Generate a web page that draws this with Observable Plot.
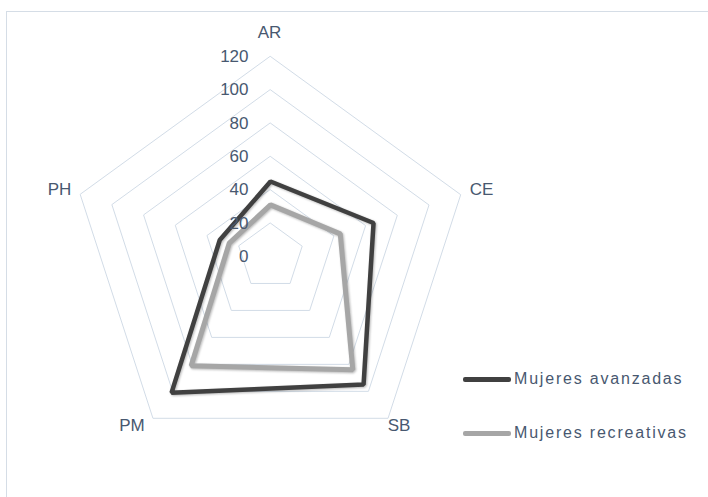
<!DOCTYPE html>
<html>
<head>
<meta charset="utf-8">
<script src="https://cdn.jsdelivr.net/npm/d3@7"></script>
<script src="https://cdn.jsdelivr.net/npm/@observablehq/plot@0.6"></script>
<style>
  html, body { margin: 0; padding: 0; background: #fff; }
  #wrap { position: relative; width: 708px; height: 497px; overflow: hidden; }
  #frame { position: absolute; left: 6px; top: 11px; width: 720px; height: 500px;
           border-top: 1.5px solid #d5dde6; border-left: 1.5px solid #d5dde6; }
  #chart { position: absolute; left: 0; top: 0; }
  .leg { position: absolute; left: 463px; font-family: "Liberation Sans", Arial, sans-serif;
         font-size: 16px; color: #485870; letter-spacing: 1.8px; display: flex; align-items: center; }
  .leg .sw { width: 48px; height: 5px; margin-right: 3px; border-radius: 2px; }
  .shadow { filter: drop-shadow(1px 1.5px 1.2px rgba(0,0,0,0.28)); }
</style>
</head>
<body>
<div id="wrap">
  <div id="frame"></div>
  <div id="chart"></div>
  <div id="legend"></div>
</div>
<script>
const categories = ["AR", "CE", "SB", "PM", "PH"];
const avanzadas = [45, 65, 95, 101, 32];
const recreativas = [31, 44, 84, 81, 26];
const tickValues = [0, 20, 40, 60, 80, 100, 120];
const seriesNames = ["Mujeres avanzadas", "Mujeres recreativas"];
const seriesColors = ["#404040", "#a6a6a6"];

// layout (pixels)
const W = 708, H = 497, cx = 270, cy = 256, R = 200, maxV = 120;
const k = maxV / R;

const angle = i => i * 2 * Math.PI / categories.length;
const px = (v, i) => v * Math.sin(angle(i));
const py = (v, i) => v * Math.cos(angle(i));

const rings = tickValues.filter(t => t > 0).flatMap(t =>
  categories.map((c, i) => ({level: t, x: px(t, i), y: py(t, i)})));

const seriesData = [avanzadas, recreativas].flatMap((vals, s) =>
  vals.map((v, i) => ({series: seriesNames[s], x: px(v, i), y: py(v, i)})));

const labelOffsets = {
  AR: {dx: -1, dy: -24, anchor: "middle"},
  CE: {dx: 9, dy: -5, anchor: "start"},
  SB: {dx: 11, dy: 7, anchor: "middle"},
  PM: {dx: -21, dy: 7, anchor: "middle"},
  PH: {dx: -9, dy: -5, anchor: "end"}
};

const font = '"Liberation Sans", Arial, sans-serif';
const textColor = "#485870";

const labelMarks = categories.map((c, i) => Plot.text([c], {
  x: () => px(maxV, i), y: () => py(maxV, i), text: d => d,
  dx: labelOffsets[c].dx, dy: labelOffsets[c].dy, textAnchor: labelOffsets[c].anchor,
  fill: textColor, fontSize: 17, fontFamily: font
}));

const chart = Plot.plot({
  width: W, height: H, margin: 0,
  style: {background: "transparent", overflow: "visible"},
  x: {domain: [-cx * k, (W - cx) * k], axis: null},
  y: {domain: [-(H - cy) * k, cy * k], axis: null},
  color: {domain: seriesNames, range: seriesColors},
  marks: [
    Plot.line(rings, {x: "x", y: "y", z: "level", curve: "linear-closed",
      stroke: "#d2dce7", strokeWidth: 1}),
    Plot.line(seriesData.filter(d => d.series === seriesNames[0]), {x: "x", y: "y",
      curve: "linear-closed", stroke: "series", strokeWidth: 4.5, strokeLinejoin: "miter",
      className: "shadow"}),
    Plot.line(seriesData.filter(d => d.series === seriesNames[1]), {x: "x", y: "y",
      curve: "linear-closed", stroke: "series", strokeWidth: 5, strokeLinejoin: "miter",
      className: "shadow"}),
    Plot.text(tickValues, {x: 0, y: d => d, text: d => String(d), dx: -22,
      textAnchor: "end", fill: textColor, fontSize: 17, fontFamily: font}),
    ...labelMarks
  ]
});
document.getElementById("chart").appendChild(chart);

const legend = document.getElementById("legend");
const legendTops = [370, 424];
seriesNames.forEach((name, s) => {
  const row = document.createElement("div");
  row.className = "leg";
  row.style.top = legendTops[s] + "px";
  const sw = document.createElement("div");
  sw.className = "sw";
  sw.style.background = seriesColors[s];
  const tx = document.createElement("span");
  tx.textContent = name;
  row.appendChild(sw); row.appendChild(tx);
  legend.appendChild(row);
});
</script>
</body>
</html>
